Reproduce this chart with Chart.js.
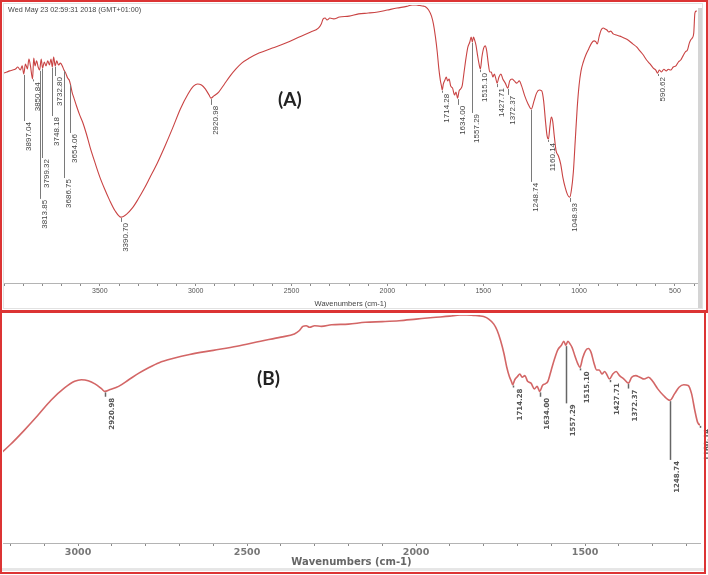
<!DOCTYPE html>
<html>
<head>
<meta charset="utf-8">
<title>FTIR spectra (A) and (B)</title>
<script src="https://cdn.jsdelivr.net/npm/chart.js@4.4.1/dist/chart.umd.min.js"></script>
<style>
  body { margin: 0; background: #fff; width: 708px; height: 575px; position: relative; overflow: hidden;
         font-family: "Liberation Sans", Arial, sans-serif; }
  canvas { position: absolute; left: 0; }
  #chartA { top: 0; }
  #chartB { top: 312px; }
  .frame { position: absolute; box-sizing: border-box; pointer-events: none; }
  #frameA { left: 0; top: 0; width: 708px; height: 313px; border: 2px solid #dc3434; border-bottom-width: 3px; z-index: 3; }
  #frameB { left: 0; top: 311px; width: 706px; height: 263px; border: 2px solid #dc3434; z-index: 3; }
  #innerA { left: 3px; top: 3px; width: 700px; height: 306px; border: 1px solid #e2e2e2; z-index: 1; }
  #barA { left: 698px; top: 8px; width: 4px; height: 300px; background: #d4d4d4; z-index: 1; }
  #shadowB { left: 2px; top: 568px; width: 702px; height: 3px; background: #e6e6e6; z-index: 1; }
  .txt { position: absolute; z-index: 2; white-space: nowrap; }
  #stamp { left: 8px; top: 5px; font-size: 7.2px; color: #444; }
  .panel { font-family: Lato, "Liberation Sans", sans-serif; font-weight: bold; font-size: 19px; color: #222; }
  #labA { left: 278px; top: 87px; }
  #labB { left: 257px; top: 366px; }
</style>
</head>
<body>
<div class="frame" id="innerA"></div>
<div class="frame" id="barA"></div>
<div class="frame" id="shadowB"></div>
<canvas id="chartA" width="708" height="312"></canvas>
<canvas id="chartB" width="708" height="260"></canvas>
<div class="frame" id="frameA"></div>
<div class="frame" id="frameB"></div>
<div class="txt" id="stamp">Wed May 23 02:59:31 2018 (GMT+01:00)</div>
<div class="txt panel" id="labA">(A)</div>
<div class="txt panel" id="labB">(B)</div>

<script>
// spectrum (wavenumber in cm-1, transmittance in arbitrary %)
const wavenumbers = [
  4000, 3985, 3970, 3955, 3940, 3928, 3915, 3905, 3897, 3888, 3878, 3870, 3862, 3851, 3845, 3838,
  3830, 3822, 3814, 3806, 3799, 3790, 3781, 3772, 3763, 3755, 3748, 3741, 3733, 3725, 3716, 3706,
  3696, 3687, 3678, 3668, 3660, 3654, 3645, 3635, 3620, 3605, 3590, 3570, 3550, 3525, 3500, 3475,
  3450, 3420, 3390, 3360, 3330, 3300, 3270, 3240, 3200, 3160, 3120, 3080, 3040, 3010, 2990, 2970,
  2950, 2930, 2921, 2905, 2880, 2850, 2820, 2790, 2760, 2720, 2670, 2600, 2530, 2460, 2400, 2360,
  2345, 2335, 2325, 2315, 2300, 2280, 2250, 2200, 2150, 2100, 2050, 2000, 1950, 1900, 1870, 1850,
  1830, 1812, 1800, 1785, 1770, 1760, 1750, 1740, 1732, 1724, 1718, 1714, 1708, 1700, 1693, 1686,
  1678, 1670, 1660, 1650, 1642, 1634, 1626, 1618, 1610, 1600, 1590, 1580, 1570, 1563, 1557, 1551,
  1545, 1538, 1530, 1522, 1515, 1507, 1498, 1490, 1482, 1474, 1466, 1458, 1450, 1442, 1435, 1428,
  1418, 1408, 1398, 1385, 1372, 1362, 1350, 1338, 1325, 1312, 1300, 1285, 1268, 1249, 1235, 1222,
  1208, 1195, 1185, 1175, 1167, 1160, 1152, 1145, 1138, 1130, 1120, 1108, 1096, 1085, 1072, 1060,
  1049, 1040, 1030, 1020, 1010, 1000, 990, 978, 965, 950, 935, 922, 912, 905, 895, 885,
  874, 864, 855, 845, 835, 822, 805, 787, 765, 745, 720, 700, 683, 665, 648, 630,
  613, 600, 591, 582, 570, 558, 545, 535, 522, 509, 495, 482, 470, 458, 446, 435,
  425, 418, 410, 402, 396, 390, 386
];
const transmittance = [
  75.5, 75.9, 76.3, 76.6, 77.0, 77.7, 76.6, 78.1, 75.2, 78.8, 77.0, 80.6, 78.1, 73.4, 80.9, 78.1,
  79.9, 77.7, 76.6, 80.6, 77.3, 79.5, 78.1, 79.9, 78.4, 80.6, 77.7, 81.3, 78.1, 79.9, 78.4, 79.1,
  78.1, 76.6, 75.5, 73.7, 73.0, 71.6, 68.7, 66.5, 63.3, 60.4, 57.9, 53.6, 48.6, 43.2, 38.1, 33.8,
  29.9, 25.9, 23.7, 24.8, 27.0, 30.2, 33.8, 37.8, 43.2, 49.3, 55.8, 62.6, 68.0, 70.9, 71.6, 71.2,
  69.8, 67.6, 66.5, 67.3, 68.7, 71.6, 74.5, 77.0, 79.1, 80.9, 82.7, 84.5, 86.3, 88.5, 90.3, 91.7,
  93.2, 95.0, 95.3, 94.6, 95.3, 95.0, 95.7, 96.0, 96.8, 97.1, 97.5, 98.2, 98.9, 99.5, 100, 100,
  99.8, 99.6, 99.3, 98.2, 96.0, 93.2, 88.8, 83.1, 77.3, 73.0, 70.9, 69.4, 71.6, 73.0, 74.1, 72.7,
  73.4, 70.9, 70.1, 67.6, 68.7, 66.5, 69.1, 69.8, 70.9, 75.9, 80.9, 84.9, 86.7, 88.5, 86.7, 88.5,
  87.4, 85.6, 82.0, 78.8, 77.0, 81.3, 84.5, 85.3, 83.5, 79.1, 75.9, 75.9, 74.1, 75.2, 73.7, 71.9,
  74.1, 75.2, 73.4, 71.9, 70.1, 72.7, 73.4, 72.7, 71.9, 72.7, 70.9, 67.6, 64.7, 62.6, 65.5, 68.3,
  69.4, 69.1, 65.5, 57.9, 52.9, 51.8, 56.5, 59.7, 58.3, 53.2, 47.5, 45.7, 42.8, 38.1, 34.2, 31.7,
  30.9, 33.5, 39.9, 51.4, 62.9, 71.2, 76.3, 79.5, 82.0, 84.2, 86.3, 87.1, 86.7, 86.0, 88.8, 91.0,
  91.7, 91.4, 91.0, 90.3, 90.6, 89.6, 89.2, 88.8, 88.1, 87.4, 86.0, 84.9, 83.5, 82.0, 80.2, 78.8,
  77.3, 76.6, 75.5, 76.6, 75.9, 76.9, 76.3, 76.9, 76.6, 77.7, 78.1, 79.5, 80.2, 81.7, 83.1, 83.8,
  86.3, 87.4, 88.1, 89.9, 97.1, 97.8, 97.8
];

// peak picks and the level (same units) where each rotated label ends
const peakLabels = [
  "3897.04", "3850.84", "3813.85", "3799.32", "3748.18", "3732.80", "3686.75", "3654.06", "3390.70",
  "2920.98", "1714.28", "1634.00", "1557.29", "1515.10", "1427.71", "1372.37", "1248.74", "1160.14",
  "1048.93", "590.62"
];
const peakDepth = [
  57.9, 72.7, 29.9, 44.6, 59.7, 74.1, 37.4, 53.6, 21.6,
  63.7, 68.3, 63.7, 60.8, 75.5, 70.1, 67.3, 36.0, 51.1,
  28.8, 74.1
];

const xTicksMajor = [500, 1000, 1500, 2000, 2500, 3000, 3500];

const points = wavenumbers.map((w, i) => ({ x: w, y: transmittance[i] }));

function curveAt(w) {
  for (let i = 1; i < wavenumbers.length; i++) {
    if (wavenumbers[i] <= w) {
      const w0 = wavenumbers[i - 1], w1 = wavenumbers[i];
      const t = (w0 - w) / (w0 - w1);
      return transmittance[i - 1] + t * (transmittance[i] - transmittance[i - 1]);
    }
  }
  return transmittance[transmittance.length - 1];
}

// leader lines + vertical peak numbers, like the spectrometer software
const peakPlugin = {
  id: 'peakLabels',
  afterDatasetsDraw(chart, args, opts) {
    const { ctx, scales: { x, y } } = chart;
    ctx.save();
    ctx.font = opts.font;
    ctx.fillStyle = opts.color;
    ctx.strokeStyle = opts.lineColor;
    ctx.lineWidth = opts.lineWidth;
    peakLabels.forEach((lab, i) => {
      const w = parseFloat(lab);
      if (w < x.min || w > x.max) return;
      const px = Math.round(x.getPixelForValue(w)) + 0.5;
      const yc = y.getPixelForValue(curveAt(w)) + 1;
      const yt = y.getPixelForValue(peakDepth[i]);
      ctx.beginPath();
      ctx.moveTo(px, yc);
      ctx.lineTo(px, Math.max(yt - 1, yc + 2));
      ctx.stroke();
      ctx.save();
      ctx.translate(px + opts.dx, Math.max(yt, yc + 3));
      ctx.rotate(-Math.PI / 2);
      ctx.textAlign = 'right';
      ctx.textBaseline = 'top';
      ctx.fillText(lab, 0, 0);
      ctx.restore();
    });
    ctx.restore();
  }
};

Chart.defaults.font.family = '"Liberation Sans", Arial, sans-serif';

function makeChart(id, cfg) {
  return new Chart(document.getElementById(id), {
    type: 'line',
    data: {
      datasets: [{
        data: points,
        borderColor: cfg.lineColor,
        borderWidth: cfg.lineWidth,
        pointRadius: 0,
        fill: false,
        cubicInterpolationMode: 'monotone'
      }]
    },
    options: {
      responsive: false,
      animation: false,
      events: [],
      layout: { padding: cfg.padding },
      plugins: {
        legend: { display: false },
        tooltip: { enabled: false },
        peakLabels: cfg.labels
      },
      scales: {
        x: {
          type: 'linear',
          reverse: true,
          min: cfg.min,
          max: cfg.max,
          afterFit(s) { s.height = cfg.axisHeight; },
          grid: { drawOnChartArea: false, drawTicks: true, tickLength: 3, color: '#8a8a8a' },
          border: { color: '#b4b4b4' },
          ticks: {
            stepSize: 100,
            includeBounds: false,
            autoSkip: false,
            maxRotation: 0,
            padding: 1,
            color: cfg.tickColor,
            font: cfg.tickFont,
            callback: v => xTicksMajor.includes(v) ? String(v) : ''
          },
          title: {
            display: true,
            text: 'Wavenumbers (cm-1)',
            color: cfg.titleColor,
            font: cfg.titleFont,
            padding: { top: 0, bottom: cfg.titlePad }
          }
        },
        y: { display: false, min: 0, max: 100 }
      }
    },
    plugins: [peakPlugin]
  });
}

makeChart('chartA', {
  min: 385, max: 4000,
  padding: { left: 4, right: 11, top: 5, bottom: 2 },
  axisHeight: 27,
  lineColor: '#c94343', lineWidth: 1.1,
  tickColor: '#555', tickFont: { size: 7 },
  titleColor: '#444', titleFont: { size: 7.5 }, titlePad: 2,
  labels: { font: '8px "Liberation Sans", Arial, sans-serif', color: '#444', lineColor: '#7a7a7a', lineWidth: 1, dx: 0 }
});

makeChart('chartB', {
  min: 1160, max: 3222,
  padding: { left: 3, right: 8, top: 3, bottom: 3 },
  axisHeight: 26,
  lineColor: '#d36666', lineWidth: 1.6,
  tickColor: '#777', tickFont: { size: 9.5, weight: 'bold', family: '"DejaVu Sans", sans-serif' },
  titleColor: '#666', titleFont: { size: 10, weight: 'bold', family: '"DejaVu Sans", sans-serif' }, titlePad: 1,
  labels: { font: 'bold 7px "DejaVu Sans", sans-serif', color: '#555', lineColor: '#666', lineWidth: 1.5, dx: 3 }
});
</script>
</body>
</html>
